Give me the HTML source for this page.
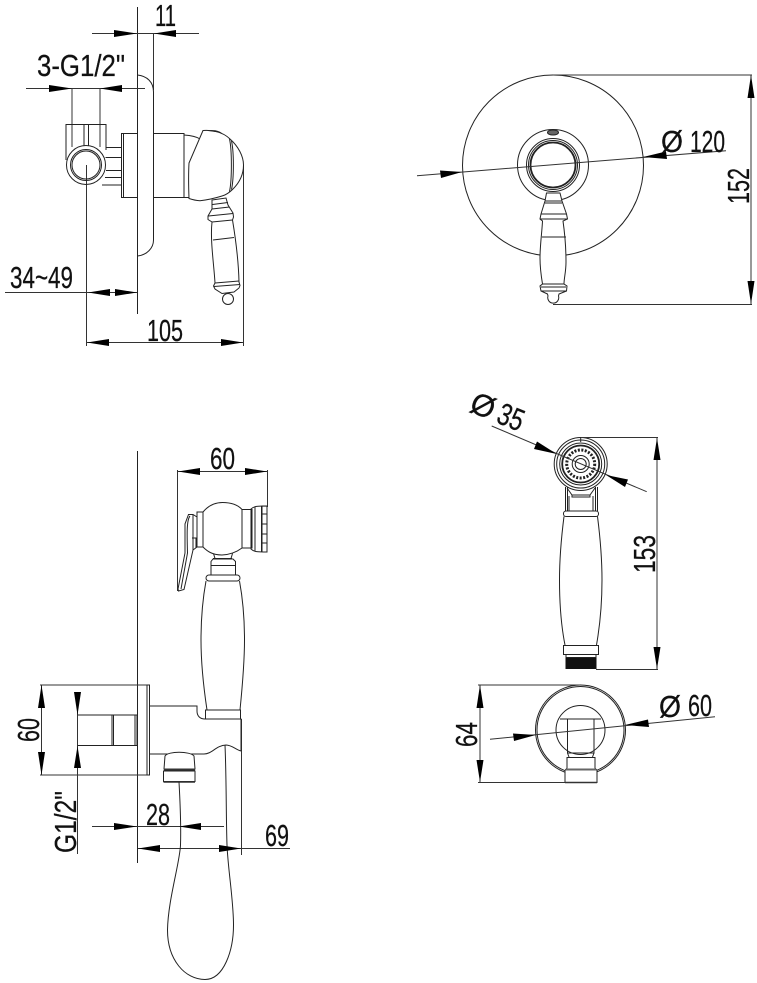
<!DOCTYPE html>
<html><head><meta charset="utf-8"><style>
html,body{margin:0;padding:0;background:#fff}
svg{display:block}
text{font-family:"Liberation Sans Narrow","Liberation Sans",sans-serif;font-size:31px;fill:#111;stroke:#111;stroke-width:.25}
.l{fill:none;stroke:#222;stroke-width:1}
.w{fill:#fff;stroke:#222;stroke-width:1}
.d{fill:none;stroke:#333;stroke-width:1}
.t{fill:none;stroke:#222;stroke-width:1.8}
.a{fill:#000;stroke:none}
</style></head><body>
<svg width="757" height="983" viewBox="0 0 757 983" xmlns="http://www.w3.org/2000/svg">
<rect width="757" height="983" fill="#fff"/>

<!-- TOP LEFT -->
<g>
<path class="l" d="M137.5 7V314"/>
<path class="d" d="M92 33.5H199M153.5 33V90M26 88.5H145M72 88V147M100 88V147M5 292.5H137M86.5 165V346M243.5 165V346M86.5 342.5H243.5"/>
<path class="l" d="M137.5 75C147 76 153.5 82 153.5 92V240C153.5 248 147 255 137.5 256"/>
<path class="l" d="M66 160V124.5H106V150M84 124.5V146M88.5 124.5V146"/>
<circle class="l" cx="86" cy="165" r="19.5"/>
<circle class="l" cx="86" cy="165" r="15.5"/>
<circle class="l" cx="86" cy="165" r="14"/>
<path class="l" d="M106 147.5H121.5M105.5 157.5H121.5M106 170.5H121.5M105 177.5H121.5M102 185H121.5M121.5 133.5H137.5V197.5H121.5V133.5ZM123.5 133.5V197.5"/>
<path class="l" d="M153.5 133.5H184V197.5H153.5M184 133.5V197.5"/>
<path class="l" d="M184 135C192 135.5 197 137 200 139M184 197.5L189 197.5"/>
<path class="w" d="M203 130.5C210 130 222 131 230 139C238 146 243.5 156 243.5 165C243.5 176 238 184 233 189C229 193 226 195 222 196C214 198.5 207 200 200 200.7C195 200.5 192 199.5 189 198.5C188.5 185 188.5 172 189 163Z"/>
<path class="l" d="M229.5 139C232 150 232 180 229.5 191.5M231.5 141C234 152 234 178 231.5 189.5"/>
<path d="M208 131C212 129.5 218 130 222 133C217 132 212 131.5 208 131Z" fill="#222"/>
<circle class="w" cx="228" cy="299" r="5.5"/>
<path class="w" d="M212 200L226 198L228 205L233 213L233.5 217L232.5 220C235 235 238.5 260 239 282L240 285.5L239 288L234 292L222 293.5L215 289L213.5 286L215 283C214 265 210 240 212 222L208 219.5L208 216L212 209Z"/>
<path class="l" d="M212.5 204.5L228 202.5M212 209L229.5 207M208.5 216L233 213.5M212 222L232.5 220M213 240L234 237.500M215 283L239 281M214 286.500L240 284.500"/>
<polygon class="a" points="137,33.5 114,30 114,37"/>
<polygon class="a" points="154,33.5 176,30 176,37"/>
<polygon class="a" points="72,88.5 49,85 49,92"/>
<polygon class="a" points="100,88.5 122,85 122,92"/>
<polygon class="a" points="88,292.5 110,289 110,296"/>
<polygon class="a" points="137,292.5 115,289 115,296"/>
<polygon class="a" points="87,342.5 109,339 109,346"/>
<polygon class="a" points="243,342.5 221,339 221,346"/>
<text x="155" y="26" textLength="21" lengthAdjust="spacingAndGlyphs">11</text>
<text x="37" y="76" textLength="88" lengthAdjust="spacingAndGlyphs">3-G1/2"</text>
<text x="10" y="288" textLength="63" lengthAdjust="spacingAndGlyphs">34~49</text>
<text x="147" y="341" textLength="36" lengthAdjust="spacingAndGlyphs">105</text>
</g>

<!-- TOP RIGHT -->
<g>
<circle class="l" cx="553" cy="165.5" r="90.5"/>
<circle class="l" cx="553" cy="165" r="35.5"/>
<circle class="l" cx="553" cy="165" r="26.5"/>
<circle class="l" cx="553" cy="165" r="24.5"/>
<circle class="t" cx="553" cy="165" r="22.5"/>
<ellipse cx="553" cy="132.5" rx="5.5" ry="2.5" fill="#666" stroke="#222"/>
<path class="w" d="M546.5 193H560L562 201L566.5 214L567.5 219L563 221C565 235 566 250 566 262C566 272 564 278 564 284L567 286L566.5 291L559 294L558.5 296A5.5 5.5 0 1 1 548 296L547.5 294L541 291L540 286L542.5 284C541 275 540 268 540 258C540 245 542 232 542.5 221L540 219L541 214L545 201Z"/>
<path class="l" d="M545.5 201H561.5M545 203H562M541 214H566.5M540 219H567.5M542 237H566M542.5 284H564M541 287H566M541 291H566.5"/>
<path class="d" d="M553 75H752M553 304.5H752M751 75V304M417 175.7L726 150.7"/>
<polygon class="a" points="751,75 747.5,98 754.5,98"/>
<polygon class="a" points="751,304 747.5,281 754.5,281"/>
<polygon class="a" points="462,172 440,170.5 441,178"/>
<polygon class="a" points="643,157 666,151.5 667,159"/>
<text x="661" y="152" textLength="22" lengthAdjust="spacingAndGlyphs">Ø</text>
<text x="690" y="152" textLength="35" lengthAdjust="spacingAndGlyphs">120</text>
<text transform="translate(749 204) rotate(-90)" textLength="36" lengthAdjust="spacingAndGlyphs">152</text>
</g>

<!-- BOTTOM LEFT -->
<g>
<path class="l" d="M137.5 451V863"/>
<path class="d" d="M177.5 470V591M267.5 470V507M177.5 471.5H267.5M40 685H149M40 775H149M41.5 685V775M77.5 692V854M92 826.5H224M138 848.5H290M241.5 719V855"/>
<path class="l" d="M203 512C208 506 214 502.5 222.5 502.5C231 502.5 238 505 242 509.5H252V548H242C238 551 232 554.5 222 555C212 555 207 551 203 547H197V512Z"/>
<path class="l" d="M203 512V547M242 509.5V548"/>
<path class="l" d="M251 509C254 506 258 506 267 506V552C258 552 254 552 251 549ZM255 506.5V551.5M261.5 506V552M267 506H262V552H267M262 514H267M262 524H267M262 534H267M262 543H267"/>
<path class="w" d="M188.5 514.5H193L197 517V547L193 550L184 589.5L178.5 591L178 589L185 553V524Z"/>
<path class="l" d="M190 516C186.5 520 187 535 187.5 553L181 589M193 514.5V550M192 538H196V548"/>
<path class="l" d="M213.5 553.5L215 558.5H231L232.5 553.5M213 558.5H232"/>
<path class="l" d="M211 575V561.5L213 559H233L235.5 561.5V575M211 565.5H235.5"/>
<rect class="l" x="206" y="575" width="34" height="6" rx="3"/>
<path class="l" d="M206 581C202.5 600 201 622 201 640C201 665 204 690 207 710M239.5 581C243 600 244.5 622 244.5 640C244.5 665 242 690 240 710"/>
<rect class="l" x="205.5" y="710" width="35" height="9"/>
<rect class="l" x="147" y="685" width="2.5" height="90"/>
<path class="l" d="M149 706H197V711C197 716 200 719 205 719H241V751"/>
<path class="l" d="M149 754H204C212 754 216 745.5 226 745C232 745 236 750 241 751"/>
<path class="l" d="M77.5 715H137V745.5H77.5M112 715V745.5M113.5 715V745.5M135 715V745.5"/>
<path class="w" d="M165 756C168 751 190 751 194 756L195 769H164Z"/>
<path class="l" d="M163.5 771H195V781.5H163.5Z"/>
<path d="M164 769.5H195" stroke="#333" stroke-width="2" fill="none"/>
<path d="M163.5 782H195" stroke="#333" stroke-width="1.5" fill="none"/>
<path class="l" d="M179 782C180 800 181 830 180.5 845C180 862 168 900 167.5 930C167.5 960 185 979.5 205 979.5C224 979.5 233.5 950 233.5 925C233.5 900 228 870 227 845C226 815 226.5 780 225 745"/>
<polygon class="a" points="178,471.5 200,468 200,475"/>
<polygon class="a" points="267,471.5 245,468 245,475"/>
<polygon class="a" points="41.5,685 38,708 45,708"/>
<polygon class="a" points="41.5,775 38,752 45,752"/>
<polygon class="a" points="77.5,715 74,692 81,692"/>
<polygon class="a" points="77.5,746 74,768 81,768"/>
<polygon class="a" points="137,826.5 114,823 114,830"/>
<polygon class="a" points="179,826.5 201,823 201,830"/>
<polygon class="a" points="138,848.5 160,845 160,852"/>
<polygon class="a" points="241,848.5 219,845 219,852"/>
<text x="210" y="469" textLength="25" lengthAdjust="spacingAndGlyphs">60</text>
<text x="146" y="825" textLength="24" lengthAdjust="spacingAndGlyphs">28</text>
<text x="265" y="846" textLength="24" lengthAdjust="spacingAndGlyphs">69</text>
<text transform="translate(39 742) rotate(-90)" textLength="24" lengthAdjust="spacingAndGlyphs">60</text>
<text transform="translate(76 853) rotate(-90)" textLength="62" lengthAdjust="spacingAndGlyphs">G1/2"</text>
</g>

<!-- MIDDLE RIGHT -->
<g>
<circle class="l" cx="580.7" cy="464" r="26.5"/>
<circle class="l" cx="580.7" cy="464" r="24"/>
<circle class="l" cx="580.7" cy="464" r="21"/>
<circle class="t" cx="580.7" cy="464" r="18.5"/>
<circle fill="none" stroke="#222" stroke-width="3" stroke-dasharray="2 1.5" cx="580.7" cy="464" r="14"/>
<circle class="l" cx="580.7" cy="464" r="8.5"/>
<circle class="l" cx="580.7" cy="464" r="5.5"/>
<path class="l" d="M580.7 437.5V442"/>
<path class="l" d="M565.5 487V511M567.5 487V511M595.5 487V511M597.5 487V511M567 488L572 495H590L595 488M569 496V511M593 496V511M572 495V497H590V495"/>
<rect class="w" x="563.5" y="511" width="35" height="5.5" rx="2.5"/>
<path class="l" d="M564 516.5C561 540 559.5 560 559.5 580C559.5 605 561 625 565 645M597.5 516.5C600.5 540 602 560 602 580C602 605 600 625 596.5 645"/>
<rect class="l" x="563.5" y="645.5" width="35" height="9"/>
<rect x="566" y="654.5" width="30" height="3" fill="#fff" stroke="#222"/>
<rect x="565.5" y="658" width="31" height="11" fill="#111"/>
<path class="d" d="M581 437.5H658M596 669.5H658M657 438V669M491.7 426L646.7 491.7"/>
<polygon class="a" points="657,438 653.5,460 660.5,460"/>
<polygon class="a" points="657,669 653.5,647 660.5,647"/>
<polygon class="a" points="556.7,454 537,441.5 534,449"/>
<polygon class="a" points="606,475 628,479.5 625,487"/>
<text transform="translate(468 411) rotate(22)" textLength="24" lengthAdjust="spacingAndGlyphs">Ø</text>
<text transform="translate(495 422) rotate(22)" textLength="26" lengthAdjust="spacingAndGlyphs">35</text>
<text transform="translate(655 573) rotate(-90)" textLength="38" lengthAdjust="spacingAndGlyphs">153</text>
</g>

<!-- BOTTOM RIGHT -->
<g>
<circle class="l" cx="580.5" cy="730" r="45"/>
<circle class="l" cx="580.5" cy="730" r="43.5"/>
<circle class="l" cx="580.5" cy="730" r="24.5"/>
<path class="l" d="M567.5 719H594V753H567.5ZM560 719H601M567.5 753L569 757M594 753L592.5 757"/>
<path class="w" d="M567 757.5H595V768L597 770.5V782.5H565V770.5L567 768Z"/>
<path d="M566 769.5H596" stroke="#666" stroke-width="2" fill="none"/>
<path d="M565 782.5H597" stroke="#333" stroke-width="1.5" fill="none"/>
<path class="d" d="M478 685H580M478 782.5H597M480 685V782M490 739.3L715 716.7"/>
<polygon class="a" points="480,685 476.5,708 483.5,708"/>
<polygon class="a" points="480,782 476.5,760 483.5,760"/>
<polygon class="a" points="535.7,735 513,733.5 514,741"/>
<polygon class="a" points="625,725 648,719.5 649,727"/>
<text x="659" y="717" textLength="22" lengthAdjust="spacingAndGlyphs">Ø</text>
<text x="688" y="716" textLength="24" lengthAdjust="spacingAndGlyphs">60</text>
<text transform="translate(477 747) rotate(-90)" textLength="25" lengthAdjust="spacingAndGlyphs">64</text>
</g>
</svg>
</body></html>
